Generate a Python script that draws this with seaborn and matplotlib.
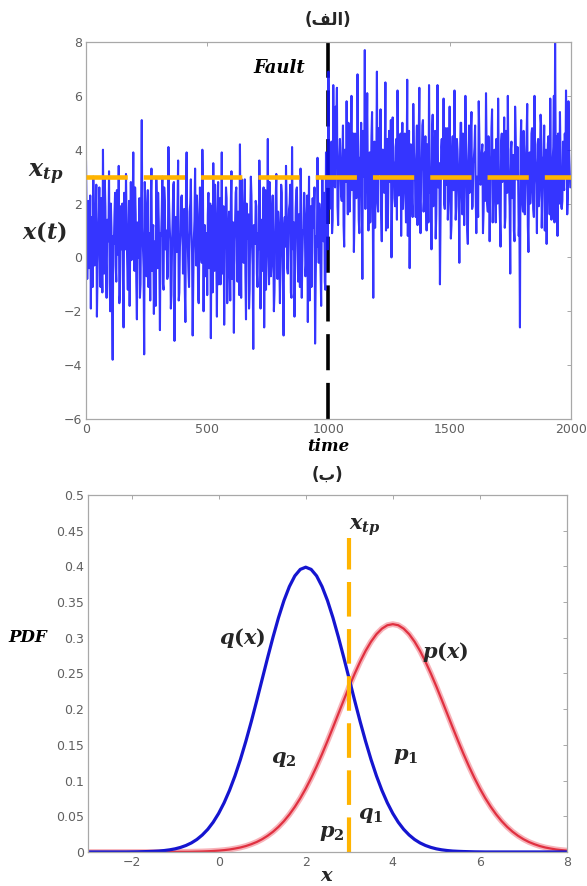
import numpy as np
import pandas as pd
import matplotlib
matplotlib.use("Agg")
import matplotlib.pyplot as plt
import seaborn as sns

# ----------------------------
# Data
# ----------------------------
# signal before the fault, samples at t = 0, 5, ..., 995
sig_before = [
    3.6, -0.8, 2.1, 0.4, -1.9, 1.5, 3.0, -0.3, 1.2, -2.2, 0.8, 2.6, -1.1, 0.2, 4.0, -0.6, 1.9, -1.5, 0.9, 3.2,
    -2.0, 1.1, -3.8, 0.5, 2.4, -0.9, 1.7, 3.4, -1.4, 0.3, 2.0, -2.6, 1.3, 3.1, -0.2, 0.7, -1.8, 2.8, 0.1, 3.9,
    -0.5, 1.6, -2.3, 0.9, 2.2, -1.0, 5.1, 0.4, -3.6, 1.8, -0.7, 2.5, 0.0, -1.6, 3.3, 1.0, -2.1, 0.6, 2.9, -0.4,
    1.4, -2.7, 0.8, 3.0, -1.2, 2.1, 0.3, -0.8, 4.1, 1.2, -1.9, 0.5, 2.7, -3.1, 1.5, 0.2, 3.6, -1.3, 0.9, 2.3,
    -0.6, 1.8, -2.4, 3.9, 0.4, -1.1, 2.0, 1.0, -2.9, 0.7, 3.3, -0.3, 1.6, -1.7, 2.6, 0.1, 4.0, -2.0, 1.2, 0.5,
    -1.4, 2.4, 0.6, -3.0, 1.9, 3.5, -0.5, 1.1, -2.2, 2.8, 0.3, -1.0, 3.9, 1.4, -2.5, 0.8, 2.2, -0.7, 1.7, -1.6,
    3.2, 0.0, -2.8, 1.3, 2.6, -0.9, 0.5, 4.2, -1.5, 1.9, -0.2, 2.9, -2.3, 0.7, 1.6, -1.2, 3.0, 0.4, -3.4, 1.1,
    2.1, -0.6, 0.9, 3.6, -1.9, 1.4, 0.2, -2.6, 2.5, 0.8, 4.4, -1.0, 1.7, -0.3, 2.3, -2.0, 0.6, 3.1, -0.8, 1.2,
    -1.7, 2.7, 0.4, -2.9, 1.5, 3.4, -0.4, 0.9, 2.0, -1.3, 4.1, 0.3, -2.2, 1.8, 2.6, -0.9, 0.7, 3.3, -1.5, 1.0,
    2.4, -0.7, 1.3, -2.4, 3.0, 0.5, -1.1, 2.2, 1.6, -3.2, 0.8, 3.7, -0.2, 1.4, -1.8, 2.9, 0.6, -0.9, 3.9, 1.1,
]
# in-between samples before the fault, t = 2.5, 7.5, ..., 997.5
sig_before_mid = [
    1.2, 0.5, -0.4, 2.3, 0.9, -1.1, 1.8, 0.2, 2.7, -0.6, 1.5, 0.0, 2.2, -1.3, 1.0, 2.9, -0.2, 1.4, 0.6, -0.9,
    2.0, -1.4, 0.8, 1.6, -0.3, 2.5, 0.1, -1.7, 1.9, 0.7, -0.8, 2.4, 0.3, 1.1, -1.2, 2.1, 0.5, -0.1, 1.7, 0.9,
    2.6, -0.9, 1.3, 0.0, -1.5, 2.0, 1.1, -0.4, 2.8, 0.4, 1.6, -1.1, 0.9, 2.3, -0.5, 1.2, 0.2, -1.8, 1.8, 2.4,
    -0.2, 0.9, 1.7, -1.0, 2.6, 0.3, 1.0, -0.7, 2.1, 0.6, -1.4, 1.5, 2.8, -0.3, 0.8, 1.9, -1.6, 0.4, 2.2, 1.3,
    0.1, -1.2, 2.4, 1.0, -0.5, 1.7, 2.9, 0.2, -0.9, 1.4, 0.7, 2.3, -1.5, 0.6, 1.8, -0.2, 2.5, 1.1, -0.7, 0.9,
    1.6, -0.4, 2.0, 0.8, -1.3, 1.2, 2.7, 0.0, 1.5, -1.0, 2.2, 0.5, -0.6, 1.9, 0.3, 2.6, -1.7, 1.0, 0.4, 2.1,
    -0.8, 1.3, 0.6, 2.4, -0.1, 1.7, -1.4, 0.9, 2.9, 0.2, 1.1, -0.6, 2.0, 0.7, -1.9, 1.6, 2.3, -0.3, 1.2, 0.5,
    1.9, -1.1, 0.3, 2.2, 1.0, -0.5, 2.6, 0.8, -1.2, 1.4, 0.1, 2.8, -0.7, 1.5, 0.6, -1.3, 2.1, 0.9, 1.7, -0.2,
    0.7, 2.4, -1.0, 1.2, 0.4, 2.0, -0.6, 1.8, 2.7, -1.5, 0.9, 1.3, -0.2, 2.5, 0.5, 1.6, -1.1, 2.2, 0.0, 1.0,
    1.5, -0.3, 2.3, 0.6, -1.6, 1.9, 0.2, 1.1, 2.6, -0.8, 0.4, 1.7, 2.0, -0.4, 1.3, 0.8, 2.4, -1.2, 1.6, 0.3,
]
# signal after the fault, t = 1000, 1005, ..., 1995
sig_after = [
    6.9, 1.8, 4.2, 0.9, 6.4, 2.7, 5.6, 6.3, 1.2, 3.8, 3.2, 2.1, 4.9, 0.4, 3.3, 5.8, 1.6, 4.1, 2.5, 6.0,
    3.0, 0.2, 4.6, 2.2, 6.8, 1.4, 3.7, 5.0, -0.8, 3.5, 7.7, 4.8, 6.1, 1.0, 3.9, 2.6, 5.4, -1.5, 4.3, 2.9,
    6.9, 1.7, 3.2, 5.5, 0.6, 4.0, 2.4, 6.5, 3.6, 1.1, 4.7, 2.8, 0.0, 5.2, 3.4, 1.9, 4.4, 6.2, 2.3, 3.8,
    0.8, 5.0, 2.6, 4.6, 1.3, 6.6, 3.1, -0.4, 4.2, 2.0, 5.7, 3.3, 1.5, 4.9, 2.7, 6.3, 0.9, 3.6, 5.1, 2.2,
    4.5, 1.0, 3.9, 6.4, 2.4, 0.3, 5.3, 3.0, 4.7, 1.6, 6.4, 2.9, -1.0, 4.1, 3.5, 5.9, 1.8, 3.2, 4.8, 2.1,
    5.6, 0.7, 3.8, 2.5, 6.2, 1.4, 4.4, 3.1, -0.2, 5.0, 2.3, 4.6, 1.2, 6.0, 3.4, 0.5, 4.9, 2.8, 5.4, 1.9,
    3.7, 4.9, 0.9, 2.6, 5.8, 3.3, 2.8, 4.2, 1.7, 3.9, 6.1, 2.0, 4.5, 0.6, 3.0, 5.5, 2.4, 4.0, 1.3, 3.6,
    5.9, 2.2, 0.4, 4.6, 3.1, 5.2, 1.5, 3.8, 6.0, 2.7, -0.6, 4.3, 3.5, 1.0, 5.6, 2.9, 4.1, 0.8, -2.6, 5.1,
    2.0, 4.7, 1.6, 3.3, 5.7, 0.2, 3.9, 2.5, 4.8, 1.8, 6.0, 3.2, 0.9, 4.4, 2.3, 5.3, 1.1, 3.7, 4.9, 2.6,
    0.5, 4.2, 3.0, 5.9, 1.4, 3.6, 6.0, 8.0, 4.5, 0.8, 3.8, 5.4, 1.9, 2.1, 2.8, 4.6, 6.2, 1.6, 5.8, 3.3,
]
# in-between samples after the fault, t = 1002.5, ..., 1997.5
sig_after_mid = [
    3.5, 2.1, 4.3, 1.4, 3.8, 2.6, 4.9, 1.9, 3.1, 4.4, 2.3, 3.7, 1.2, 4.0, 2.8, 3.4, 5.0, 1.7, 3.9, 2.5,
    4.6, 1.5, 3.2, 2.7, 4.1, 0.9, 3.6, 2.2, 4.7, 3.0, 1.8, 4.2, 2.9, 3.5, 1.3, 4.5, 2.4, 3.8, 1.1, 3.3,
    2.0, 4.8, 3.1, 1.6, 4.0, 2.5, 3.7, 1.0, 4.4, 2.9, 3.3, 5.1, 1.9, 3.6, 2.2, 4.1, 1.4, 3.9, 2.7, 4.6,
    3.4, 1.8, 4.3, 2.6, 3.1, 0.8, 4.7, 2.3, 3.5, 1.5, 4.0, 2.8, 3.8, 1.2, 4.5, 2.1, 3.2, 4.9, 1.7, 3.6,
    2.4, 4.2, 1.3, 3.7, 2.9, 4.6, 1.9, 3.3, 0.7, 4.1, 2.6, 3.5, 1.6, 4.4, 3.0, 2.0, 4.8, 2.7, 1.4, 3.9,
    3.1, 1.2, 4.5, 2.5, 3.8, 1.9, 4.0, 2.2, 3.4, 5.0, 1.6, 3.6, 2.8, 4.3, 1.0, 3.2, 2.4, 4.7, 1.8, 3.5,
    4.1, 2.3, 3.0, 1.5, 4.6, 2.7, 3.9, 0.9, 3.3, 2.1, 4.2, 1.7, 3.7, 2.9, 4.8, 1.3, 3.1, 2.6, 4.4, 2.0,
    3.6, 1.4, 4.3, 2.8, 3.2, 1.1, 4.7, 2.4, 3.5, 1.9, 4.0, 2.2, 3.8, 0.6, 4.5, 2.9, 3.0, 1.6, 4.1, 2.5,
    1.7, 3.9, 2.6, 4.4, 1.2, 3.4, 2.0, 4.6, 3.1, 1.5, 3.7, 2.7, 4.2, 1.9, 3.3, 4.9, 2.3, 3.6, 1.0, 4.0,
    2.8, 4.5, 1.6, 3.2, 2.4, 4.1, 1.3, 3.8, 2.9, 4.6, 2.0, 3.5, 1.8, 4.3, 2.5, 3.0, 4.7, 2.2, 3.9, 2.6,
]
t_step = 2.5
fault_time = 1000
x_tp = 3.0

# PDF curves, x from -3 to 8 in steps of 0.125
pdf_x = [i * 0.125 - 3 for i in range(89)]
q_pdf = [
    0, 0, 0, 0, 0, 0, 0, 0,
    0.0001, 0.0002, 0.0004, 0.0006, 0.0009, 0.0013, 0.002, 0.003,
    0.0044, 0.0064, 0.0091, 0.0127, 0.0175, 0.0238, 0.0317, 0.0417,
    0.054, 0.0688, 0.0863, 0.1065, 0.1295, 0.155, 0.1826, 0.2119,
    0.242, 0.2721, 0.3011, 0.3282, 0.3521, 0.3718, 0.3867, 0.3958,
    0.3989,
    0.3958, 0.3867, 0.3718, 0.3521, 0.3282, 0.3011, 0.2721, 0.242,
    0.2119, 0.1826, 0.155, 0.1295, 0.1065, 0.0863, 0.0688, 0.054,
    0.0417, 0.0317, 0.0238, 0.0175, 0.0127, 0.0091, 0.0064, 0.0044,
    0.003, 0.002, 0.0013, 0.0009, 0.0006, 0.0004, 0.0002, 0.0001,
    0, 0, 0, 0, 0, 0, 0, 0, 0, 0, 0, 0, 0, 0, 0, 0,
]
p_pdf = [
    0, 0, 0, 0, 0, 0, 0, 0, 0, 0, 0, 0, 0, 0, 0, 0,
    0.0001, 0.0002, 0.0002, 0.0003, 0.0005, 0.0007, 0.001, 0.0014,
    0.0019, 0.0026, 0.0035, 0.0048, 0.0063, 0.0083, 0.0109, 0.014,
    0.0179, 0.0227, 0.0284, 0.0352, 0.0432, 0.0525, 0.0632, 0.0752,
    0.0887, 0.1036, 0.1198, 0.1371, 0.1554, 0.1743, 0.1936, 0.2129,
    0.2318, 0.2498, 0.2666, 0.2817, 0.2946, 0.3051, 0.3128, 0.3176,
    0.3191,
    0.3176, 0.3128, 0.3051, 0.2946, 0.2817, 0.2666, 0.2498, 0.2318,
    0.2129, 0.1936, 0.1743, 0.1554, 0.1371, 0.1198, 0.1036, 0.0887,
    0.0752, 0.0632, 0.0525, 0.0432, 0.0352, 0.0284, 0.0227, 0.0179,
    0.014, 0.0109, 0.0083, 0.0063, 0.0048, 0.0035, 0.0026, 0.0019,
]

# interleave the main and in-between samples in time order
sig = []
for a, b in zip(sig_before + sig_after, sig_before_mid + sig_after_mid):
    sig += [a, b]
sig_df = pd.DataFrame({"time": np.arange(len(sig)) * t_step, "x": sig})
pdf_df = pd.DataFrame({"x": pdf_x, "q": q_pdf, "p": p_pdf})

# ----------------------------
# Style
# ----------------------------
sns.set_style("white")
plt.rcParams["font.family"] = ["DejaVu Sans"]
plt.rcParams["mathtext.fontset"] = "custom"
plt.rcParams["mathtext.it"] = "DejaVu Serif:italic:bold"
plt.rcParams["mathtext.rm"] = "DejaVu Serif:bold"
plt.rcParams["mathtext.bf"] = "DejaVu Serif:bold"

lab = dict(family="DejaVu Serif", fontweight="bold", style="italic", color="black")
orange = "#ffb400"

fig = plt.figure(figsize=(5.87, 8.86), dpi=100)
ax1 = fig.add_axes([0.1465, 0.5271, 0.826, 0.4255])
ax2 = fig.add_axes([0.1499, 0.0384, 0.816, 0.4029])


def matlab_axes(ax):
    for s in ax.spines.values():
        s.set_color("#a8a8a8")
        s.set_linewidth(0.9)
    ax.tick_params(direction="in", length=3, width=0.7, colors="#a8a8a8",
                   labelcolor="#606060", labelsize=9, top=True, right=True, pad=3)


# ----------------------------
# Top panel: signal with fault
# ----------------------------
ax1.axvline(fault_time, color="black", lw=2.6, dashes=(10, 3.5), zorder=1)
sns.lineplot(data=sig_df, x="time", y="x", ax=ax1, color="#1212ff", lw=1.5, alpha=0.85, zorder=2)
ax1.axhline(x_tp, color=orange, lw=3.3, dashes=(9, 3.5), zorder=3)
ax1.set_xlim(0, 2000)
ax1.set_ylim(-6, 8)
ax1.set_xticks([0, 500, 1000, 1500, 2000])
ax1.set_yticks(range(-6, 9, 2))
ax1.set_xlabel("time", fontsize=12, labelpad=1, **lab)
ax1.set_ylabel("")
matlab_axes(ax1)
ax1.text(903, 7.03, "Fault", fontsize=13, ha="right", va="center", **lab)
ax1.text(-0.047, 3.1, "$x_{tp}$", transform=ax1.get_yaxis_transform(), fontsize=17,
         ha="right", va="center")
ax1.text(-0.04, 0.95, "$x(t)$", transform=ax1.get_yaxis_transform(), fontsize=16,
         ha="right", va="center")
ax1.set_title("(\ufed2\ufedf\ufe8d)", fontsize=12, fontweight="bold", family="DejaVu Sans", pad=12)

# ----------------------------
# Bottom panel: PDFs
# ----------------------------
sns.lineplot(data=pdf_df, x="x", y="p", ax=ax2, color="#f5a0a8", lw=4.2, alpha=0.8)
sns.lineplot(data=pdf_df, x="x", y="p", ax=ax2, color="#e03040", lw=1.6)
sns.lineplot(data=pdf_df, x="x", y="q", ax=ax2, color="#1515d0", lw=2.3)
ax2.plot([x_tp, x_tp], [0, 0.44], color=orange, lw=3.0, dashes=(8.3, 3))
ax2.set_xlim(-3, 8)
ax2.set_ylim(0, 0.5)
ax2.set_xticks([-2, 0, 2, 4, 6, 8])
ax2.set_yticks(np.arange(0, 0.51, 0.05))
ax2.set_yticklabels(["0", "0.05", "0.1", "0.15", "0.2", "0.25", "0.3", "0.35", "0.4", "0.45", "0.5"])
ax2.set_xlabel("$x$", fontsize=14, labelpad=-2)
ax2.set_ylabel("")
matlab_axes(ax2)
fig.text(8 / 587, 1 - 637 / 886, "PDF", fontsize=12, ha="left", va="center", **lab)
ax2.text(3.35, 0.455, "$x_{tp}$", fontsize=15, ha="center", va="center")
ax2.text(0.55, 0.30, "$q(x)$", fontsize=15, ha="center", va="center")
ax2.text(5.2, 0.28, "$p(x)$", fontsize=15, ha="center", va="center")
ax2.text(1.5, 0.13, "$q_2$", fontsize=15, ha="center", va="center")
ax2.text(4.3, 0.135, "$p_1$", fontsize=15, ha="center", va="center")
ax2.text(3.5, 0.052, "$q_1$", fontsize=15, ha="center", va="center")
ax2.text(2.6, 0.027, "$p_2$", fontsize=15, ha="center", va="center")
ax2.set_title("(\ufe8f)", fontsize=12, fontweight="bold", family="DejaVu Sans", pad=11)

fig.savefig("out.png", dpi=100)
